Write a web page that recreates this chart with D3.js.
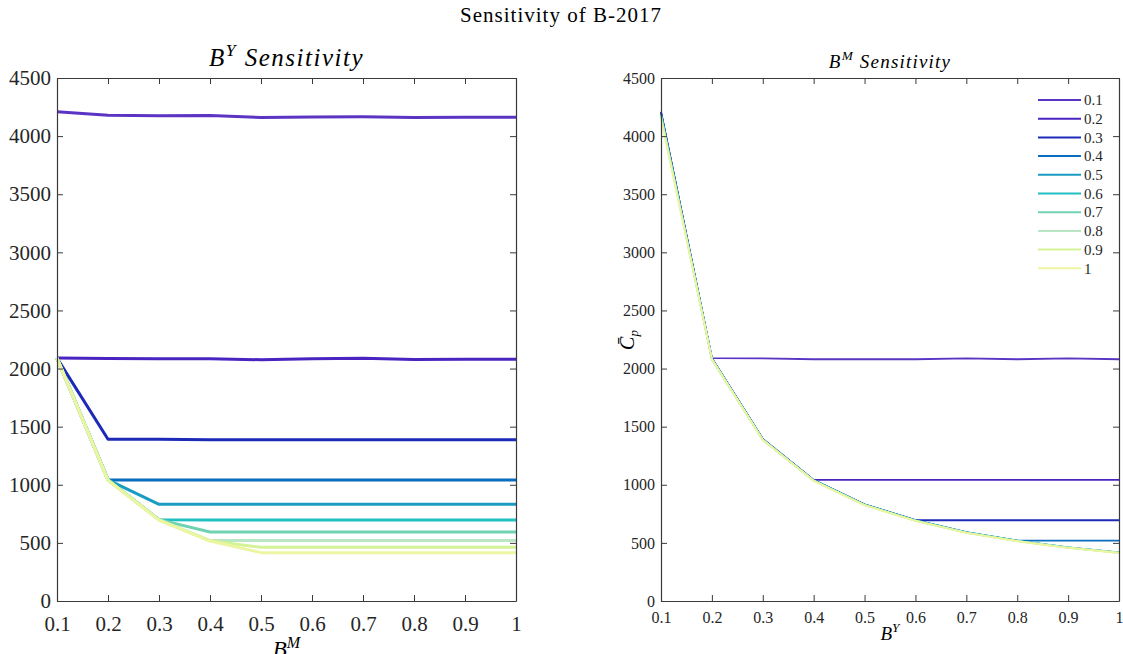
<!DOCTYPE html>
<html>
<head>
<meta charset="utf-8">
<script src="https://cdn.jsdelivr.net/npm/d3@7"></script>
<style>
  body { margin: 0; background: #fff; }
  svg { font-family: "Liberation Serif", "DejaVu Serif", serif; }
</style>
</head>
<body>
<div id="chart"></div>
<script>
// chart values
let xTicks = [0.1, 0.2, 0.3, 0.4, 0.5, 0.6, 0.7, 0.8, 0.9, 1];
let xTickLabels = ["0.1", "0.2", "0.3", "0.4", "0.5", "0.6", "0.7", "0.8", "0.9", "1"];
let yTicks = [0, 500, 1000, 1500, 2000, 2500, 3000, 3500, 4000, 4500];
let seriesNames = ["0.1", "0.2", "0.3", "0.4", "0.5", "0.6", "0.7", "0.8", "0.9", "1"];
let seriesColors = ["#5b34c4", "#4a24c0", "#1d2ab8", "#0b6dc0", "#1a9cc2", "#22bfc2", "#6fd3b2", "#b9e6c5", "#d3f396", "#ecf5a0"];

// left panel: B^Y sensitivity, x = B^M
let leftSeries = [
    [4210, 4180, 4175, 4178, 4160, 4165, 4167, 4160, 4163, 4163],
    [2090, 2087, 2084, 2084, 2076, 2084, 2089, 2077, 2081, 2081],
    [2090, 1392, 1391, 1387, 1387, 1387, 1387, 1387, 1387, 1387],
    [2090, 1042, 1042, 1042, 1042, 1042, 1042, 1042, 1042, 1042],
    [2090, 1042, 832, 832, 832, 832, 832, 832, 832, 832],
    [2090, 1042, 700, 697, 697, 697, 697, 697, 697, 697],
    [2090, 1042, 700, 593, 593, 593, 593, 593, 593, 593],
    [2090, 1040, 698, 520, 520, 520, 520, 520, 520, 520],
    [2090, 1040, 698, 518, 462, 462, 462, 462, 462, 462],
    [2090, 1038, 696, 516, 416, 416, 416, 416, 416, 416]
];

// right panel: B^M sensitivity, x = B^Y
let rightSeries = [
    [4210, 2090, 2088, 2080, 2080, 2080, 2088, 2080, 2088, 2080],
    [4205, 2088, 1395, 1042, 1042, 1042, 1042, 1042, 1042, 1042],
    [4200, 2086, 1393, 1040, 832, 695, 695, 695, 695, 695],
    [4195, 2085, 1391, 1040, 830, 695, 592, 520, 520, 520],
    [4190, 2084, 1390, 1039, 829, 694, 591, 519, 462, 418],
    [4185, 2083, 1389, 1038, 828, 693, 590, 518, 461, 417],
    [4180, 2082, 1388, 1037, 827, 692, 589, 517, 460, 416],
    [4170, 2081, 1387, 1036, 826, 691, 588, 516, 459, 415],
    [4160, 2080, 1386, 1035, 825, 690, 587, 515, 458, 414],
    [4150, 2079, 1385, 1034, 824, 689, 586, 514, 457, 413]
];

let width = 1123, height = 654;

let svg = d3.select("#chart").append("svg")
    .attr("width", width)
    .attr("height", height);

// overall title
svg.append("text")
    .attr("x", 561)
    .attr("y", 22)
    .attr("text-anchor", "middle")
    .style("font-size", "21px")
    .style("letter-spacing", "1px")
    .text("Sensitivity of B-2017");

function drawPanel(p) {
    let x = d3.scaleLinear().domain([0.1, 1]).range([p.left, p.right]);
    let y = d3.scaleLinear().domain([0, 4500]).range([p.bottom, p.top]);
    let g = svg.append("g");

    // lines first, box and axes drawn on top
    let line = d3.line()
        .x(function (d, i) { return x(xTicks[i]); })
        .y(function (d) { return y(d); });

    g.selectAll(".series")
        .data(p.series)
        .enter()
        .append("path")
        .attr("class", "series")
        .attr("d", line)
        .attr("fill", "none")
        .attr("stroke", function (d, i) { return seriesColors[i]; })
        .attr("stroke-width", p.lineWidth)
        .attr("stroke-linejoin", "round");

    let fmt = function (d) { return xTickLabels[xTicks.indexOf(d)]; };

    let bottomAxis = g.append("g")
        .attr("transform", "translate(0," + p.bottom + ")")
        .call(d3.axisBottom(x).tickValues(xTicks).tickFormat(fmt)
            .tickSize(-p.tick).tickSizeOuter(0).tickPadding(p.xPad));
    let leftAxis = g.append("g")
        .attr("transform", "translate(" + p.left + ",0)")
        .call(d3.axisLeft(y).tickValues(yTicks).tickFormat(d3.format("d"))
            .tickSize(-p.tick).tickSizeOuter(0).tickPadding(p.yPad));
    let topAxis = g.append("g")
        .attr("transform", "translate(0," + p.top + ")")
        .call(d3.axisTop(x).tickValues(xTicks).tickFormat("")
            .tickSize(-p.tick).tickSizeOuter(0));
    let rightAxis = g.append("g")
        .attr("transform", "translate(" + p.right + ",0)")
        .call(d3.axisRight(y).tickValues(yTicks).tickFormat("")
            .tickSize(-p.tick).tickSizeOuter(0));

    [bottomAxis, leftAxis, topAxis, rightAxis].forEach(function (a) {
        a.select(".domain").attr("stroke", "#3a3a3a").attr("stroke-width", 1.2);
        a.selectAll(".tick line").attr("stroke", "#3a3a3a").attr("stroke-width", 1);
        a.selectAll("text")
            .attr("fill", "#262626")
            .style("font-family", "Liberation Serif, serif")
            .style("font-size", p.tickFont + "px");
    });

    // subplot title
    let t = g.append("text")
        .attr("x", (p.left + p.right) / 2)
        .attr("y", p.titleY)
        .attr("text-anchor", "middle")
        .style("font-style", "italic")
        .style("letter-spacing", p.titleSpace + "px")
        .style("font-size", p.titleFont + "px");
    t.append("tspan").text("B");
    t.append("tspan").attr("dy", -p.titleFont * 0.4).style("font-size", (p.titleFont * 0.7) + "px").text(p.titleSup);
    t.append("tspan").attr("dy", p.titleFont * 0.4).text(" Sensitivity");

    // x label
    let xl = g.append("text")
        .attr("x", (p.left + p.right) / 2)
        .attr("y", p.xLabelY)
        .attr("text-anchor", "middle")
        .style("font-style", "italic")
        .style("font-size", p.labelFont + "px");
    xl.append("tspan").text("B");
    xl.append("tspan").attr("dy", -p.labelFont * 0.4).style("font-size", (p.labelFont * 0.7) + "px").text(p.xSup);

    return { x: x, y: y, g: g };
}

let leftPanel = drawPanel({
    left: 57, right: 516, top: 78, bottom: 601,
    series: leftSeries, lineWidth: 3, tick: 6,
    tickFont: 21, xPad: 15, yPad: 6,
    titleY: 66, titleFont: 25, titleSpace: 1.5, titleSup: "Y",
    xLabelY: 657, labelFont: 23, xSup: "M"
});

let rightPanel = drawPanel({
    left: 661, right: 1119, top: 78, bottom: 601,
    series: rightSeries, lineWidth: 1.8, tick: 6,
    tickFont: 16, xPad: 11, yPad: 6,
    titleY: 68, titleFont: 19, titleSpace: 1.2, titleSup: "M",
    xLabelY: 640, labelFont: 19, xSup: "Y"
});

// right y label: C-bar sub p
let yl = svg.append("text")
    .attr("transform", "translate(634,340) rotate(-90)")
    .attr("text-anchor", "middle")
    .style("font-style", "italic")
    .style("font-size", "20px");
yl.append("tspan").text("C\u0304");
yl.append("tspan").attr("dy", 4).style("font-size", "13px").text("p");

// legend for the right panel
let legend = svg.append("g").attr("transform", "translate(1038,100)");
let rows = legend.selectAll(".row")
    .data(seriesNames)
    .enter()
    .append("g")
    .attr("class", "row")
    .attr("transform", function (d, i) { return "translate(0," + (i * 18.7) + ")"; });
rows.append("line")
    .attr("x1", 0).attr("x2", 43)
    .attr("stroke", function (d, i) { return seriesColors[i]; })
    .attr("stroke-width", 2);
rows.append("text")
    .attr("x", 46)
    .attr("dy", "0.35em")
    .attr("fill", "#262626")
    .style("font-size", "15px")
    .text(function (d) { return d; });
</script>
</body>
</html>
